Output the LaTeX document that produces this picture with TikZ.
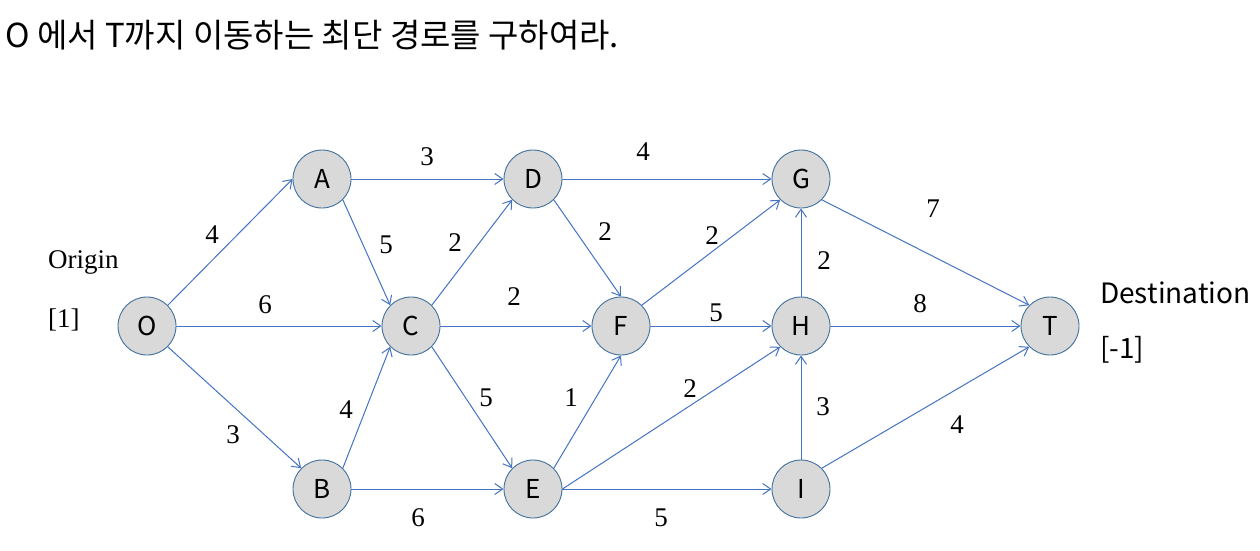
\documentclass[tikz,border=0pt]{standalone}
\usepackage{fontspec}
\setmainfont{Liberation Serif}
\newfontfamily\kofont{Noto Sans CJK KR}
\usetikzlibrary{arrows.meta}
\definecolor{edgeblue}{HTML}{4472C4}
\definecolor{nodeline}{HTML}{41719C}
\definecolor{nodefill}{HTML}{D9D9D9}

\begin{document}
\begin{tikzpicture}[x=1pt, y=-1pt,
  vertex/.style={circle, draw=nodeline, fill=nodefill, line width=0.9pt, minimum size=58pt, inner sep=0pt, font=\kofont\fontsize{26}{26}\selectfont},
  arc/.style={-{Straight Barb[length=8pt, width=11pt]}, edgeblue, line width=1pt},
  weight/.style={font=\fontsize{27}{27}\selectfont, inner sep=0pt},
  side/.style={anchor=base west, inner sep=0pt}
]
  \useasboundingbox (0,0) rectangle (1260,551);

  % question
  \node[side, font=\kofont\fontsize{33}{33}\selectfont] (title) at (5,48) {O 에서 T까지 이동하는 최단 경로를 구하여라.};

  % network
  \node[vertex] (O) at (147,326) {O};
  \node[vertex] (A) at (322,179) {A};
  \node[vertex] (B) at (322,489) {B};
  \node[vertex] (C) at (411,326) {C};
  \node[vertex] (D) at (533,179) {D};
  \node[vertex] (E) at (533,489) {E};
  \node[vertex] (F) at (621,326) {F};
  \node[vertex] (G) at (801,179) {G};
  \node[vertex] (H) at (801,326) {H};
  \node[vertex] (I) at (801,489) {I};
  \node[vertex] (T) at (1050,326) {T};

  % connectors: from/anchor/to/anchor/weight/label x/label y
  \foreach \from/\fa/\to/\ta/\w/\lx/\ly in {
    O/45/A/180/4/212/235, O/0/C/180/6/265/305, O/315/B/135/3/233/435,
    A/0/D/180/3/427/157, A/315/C/135/5/386/245, C/45/D/225/2/455/243,
    B/45/C/225/4/346/410, B/0/E/180/6/418/518, C/0/F/180/2/514/297,
    C/315/E/135/5/486/398, D/315/F/90/2/605/232, D/0/G/180/4/643/152,
    E/45/F/270/1/571/398, E/0/H/225/2/690/389, E/0/I/180/5/661/518,
    F/45/G/225/2/712/236, F/0/H/180/5/716/313, H/90/G/270/2/824/261,
    G/315/T/135/7/933/209, H/0/T/180/8/920/304, I/90/H/270/3/823/407,
    I/45/T/225/4/957/425} {
    \draw[arc] (\from.\fa) -- (\to.\ta);
    \node[weight] (w\from\to) at (\lx,\ly) {\w};
  }

  % supply and demand
  \node[side, font=\fontsize{27}{27}\selectfont] (orig) at (48,268) {Origin};
  \node[side, font=\fontsize{27}{27}\selectfont] (origval) at (48,327) {[1]};
  \node[side, font=\kofont\fontsize{28}{28}\selectfont] (dest) at (1100,303) {Destination};
  \node[side, font=\kofont\fontsize{28}{28}\selectfont] (destval) at (1100,358) {[-1]};
\end{tikzpicture}
\end{document}
